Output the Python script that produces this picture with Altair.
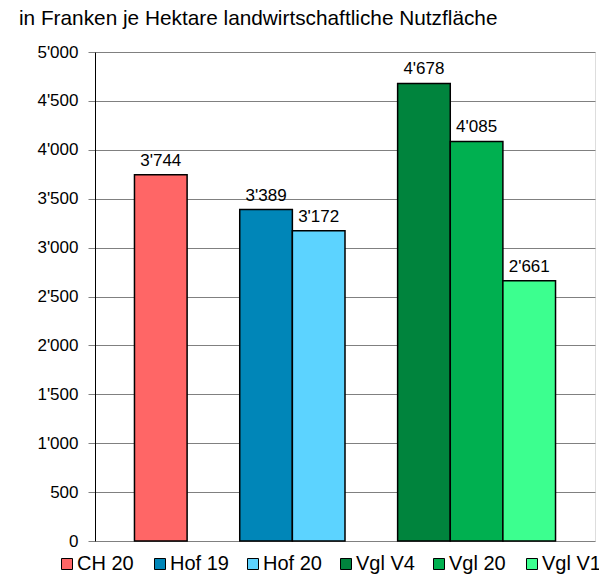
import altair as alt
import pandas as pd

# --- data ---
categories = ["CH 20", "Hof 19", "Hof 20", "Vgl V4", "Vgl 20", "Vgl V1"]
values = [3744, 3389, 3172, 4678, 4085, 2661]
colors = ["#FF6666", "#0086B8", "#5CD3FF", "#00843D", "#00B050", "#3CFF8F"]
y_ticks = [0, 500, 1000, 1500, 2000, 2500, 3000, 3500, 4000, 4500, 5000]
title_text = "in Franken je Hektare landwirtschaftliche Nutzfläche"

# band slots: empty spacer slots separate the groups
slot_domain = ["CH 20", " ", "Hof 19", "Hof 20", "  ", "Vgl V4", "Vgl 20", "Vgl V1"]

df = pd.DataFrame({"Kategorie": categories, "Wert": values})

FONT = "Arial, Liberation Sans, sans-serif"
fmt = "replace(format(datum.value, ','), ',', \"'\")"

x = alt.X(
    "Kategorie:N",
    scale=alt.Scale(domain=slot_domain, paddingInner=0, paddingOuter=0.75),
    axis=None,
)
y = alt.Y(
    "Wert:Q",
    scale=alt.Scale(domain=[0, 5000], nice=False),
    axis=alt.Axis(
        values=y_ticks,
        title=None,
        labelExpr=fmt,
        labelFont=FONT,
        labelFontSize=17,
        labelColor="black",
        labelPadding=10,
        tickSize=7,
        tickColor="#808080",
        tickWidth=1,
        grid=True,
        gridColor="#808080",
        gridWidth=1,
        domainColor="black",
        domainWidth=1,
    ),
)

bars = alt.Chart(df).mark_bar(stroke="black", strokeWidth=1.5).encode(
    x=x,
    y=y,
    color=alt.Color(
        "Kategorie:N",
        scale=alt.Scale(domain=categories, range=colors),
        legend=alt.Legend(
            title=None,
            orient="none",
            legendX=-38,
            legendY=502,
            direction="horizontal",
            columns=6,
            gridAlign="all",
            columnPadding=14,
            symbolType="square",
            symbolSize=121,
            symbolStrokeColor="black",
            symbolStrokeWidth=1,
            symbolOpacity=1,
            labelFont=FONT,
            labelFontSize=20,
            labelColor="black",
            labelOffset=0,
            labelLimit=300,
        ),
    ),
)

labels = (
    alt.Chart(df)
    .transform_calculate(label="replace(format(datum.Wert, ','), ',', \"'\")")
    .mark_text(dy=-9, baseline="alphabetic", font=FONT, fontSize=17, color="black")
    .encode(x=x, y=y, text="label:N")
)

chart = (
    alt.layer(bars, labels)
    .properties(
        width=500,
        height=489,
        autosize="none",
        padding={"left": 87, "top": 44, "right": 4, "bottom": 33},
        title=alt.TitleParams(
            title_text,
            anchor="start",
            dx=-18,
            dy=-9,
            font=FONT,
            fontSize=20.8,
            fontWeight="normal",
            color="black",
        ),
    )
    .configure_view(stroke=None)
    .configure(background="white")
)

chart.save("out.html", embed_options={"renderer": "svg", "actions": False})
